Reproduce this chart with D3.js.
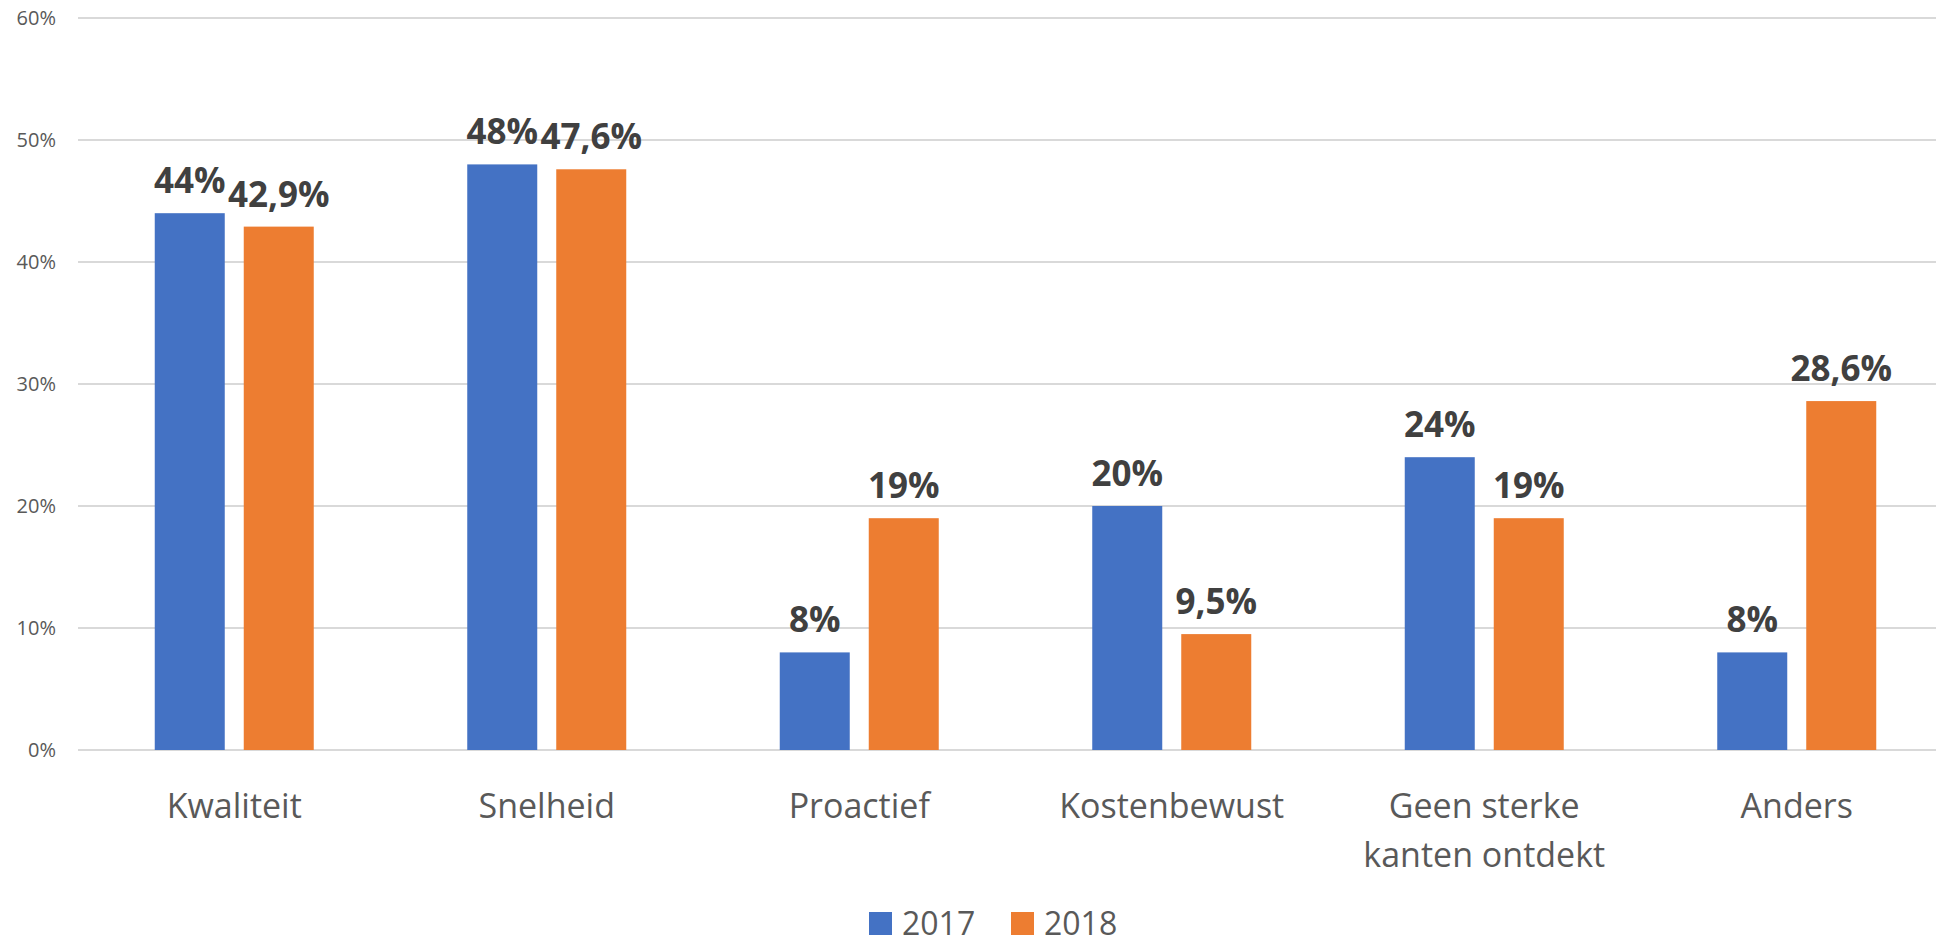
<!DOCTYPE html>
<html>
<head>
<meta charset="utf-8">
<script src="https://cdn.jsdelivr.net/npm/d3@7"></script>
<style>
  body { margin: 0; background: #fff; overflow: hidden; }
  svg { display: block; }
  text { font-family: "Segoe UI", "Open Sans", sans-serif; }
</style>
</head>
<body>
<div id="chart"></div>
<script>
// chart data
var categories = ['Kwaliteit', 'Snelheid', 'Proactief', 'Kostenbewust', 'Geen sterke kanten ontdekt', 'Anders'];
var categoryLines = [['Kwaliteit'], ['Snelheid'], ['Proactief'], ['Kostenbewust'], ['Geen sterke', 'kanten ontdekt'], ['Anders']];
var series = ['2017', '2018'];
var values2017 = [44, 48, 8, 20, 24, 8];
var values2018 = [42.9, 47.6, 19, 9.5, 19, 28.6];
var yTicks = [0, 10, 20, 30, 40, 50, 60];
var colors = ['#4472c4', '#ed7d31'];

var width = 1936, height = 943;

var svg = d3.select('#chart').append('svg')
    .attr('width', width)
    .attr('height', height);

// plot area runs past the right edge of the picture
var x0 = d3.scaleBand().domain(categories).range([78, 1953]).padding(0);
var groupW = 159;
var x1 = d3.scaleBand().domain(series)
    .range([(x0.bandwidth() - groupW) / 2, (x0.bandwidth() + groupW) / 2])
    .paddingInner(0.2135);
var y = d3.scaleLinear().domain([0, 60]).range([750, 18]);

// gridlines
svg.append('g').selectAll('line')
    .data(yTicks).enter().append('line')
    .attr('x1', 78).attr('x2', width)
    .attr('y1', function(d){ return y(d); })
    .attr('y2', function(d){ return y(d); })
    .attr('stroke', '#d9d9d9')
    .attr('stroke-width', 2);

// y axis labels
var yAxis = d3.axisLeft(y).tickValues(yTicks)
    .tickFormat(function(d){ return d + '%'; })
    .tickSize(0).tickPadding(0);
var yg = svg.append('g').attr('transform', 'translate(56,0)').call(yAxis);
yg.select('.domain').remove();
yg.selectAll('text')
    .attr('fill', '#595959')
    .style('font-size', '20px');

var rows = categories.map(function(c, i){
    return { cat: c, vals: [values2017[i], values2018[i]] };
});

var groups = svg.selectAll('.group')
    .data(rows).enter().append('g')
    .attr('class', 'group')
    .attr('transform', function(d){ return 'translate(' + x0(d.cat) + ',0)'; });

var bars = groups.selectAll('.bar')
    .data(function(d){ return d.vals.map(function(v, j){ return { s: series[j], v: v, j: j }; }); })
    .enter();

bars.append('rect')
    .attr('class', 'bar')
    .attr('x', function(d){ return x1(d.s); })
    .attr('y', function(d){ return y(d.v); })
    .attr('width', x1.bandwidth())
    .attr('height', function(d){ return y(0) - y(d.v); })
    .attr('fill', function(d){ return colors[d.j]; });

bars.append('text')
    .attr('x', function(d){ return x1(d.s) + x1.bandwidth() / 2; })
    .attr('y', function(d){ return y(d.v) - 20; })
    .attr('text-anchor', 'middle')
    .attr('fill', '#404040')
    .style('font-size', '35px')
    .style('font-weight', 'bold')
    .text(function(d){ return String(d.v).replace('.', ',') + '%'; });

// category labels
var catLabels = svg.append('g').selectAll('text')
    .data(categories).enter().append('text')
    .attr('x', function(d){ return x0(d) + x0.bandwidth() / 2; })
    .attr('y', 818)
    .attr('text-anchor', 'middle')
    .attr('fill', '#595959')
    .style('font-size', '34px');
catLabels.each(function(d, i){
    var t = d3.select(this);
    categoryLines[i].forEach(function(line, k){
        t.append('tspan')
            .attr('x', x0(d) + x0.bandwidth() / 2)
            .attr('dy', k === 0 ? 0 : 49)
            .text(line);
    });
});

// legend
var legendX = [869, 1011];
var legend = svg.append('g').selectAll('g')
    .data(series).enter().append('g');
legend.append('rect')
    .attr('x', function(d, i){ return legendX[i]; })
    .attr('y', 912)
    .attr('width', 23).attr('height', 23)
    .attr('fill', function(d, i){ return colors[i]; });
legend.append('text')
    .attr('x', function(d, i){ return legendX[i] + 33; })
    .attr('y', 935)
    .attr('fill', '#595959')
    .style('font-size', '32px')
    .text(function(d){ return d; });
</script>
</body>
</html>
